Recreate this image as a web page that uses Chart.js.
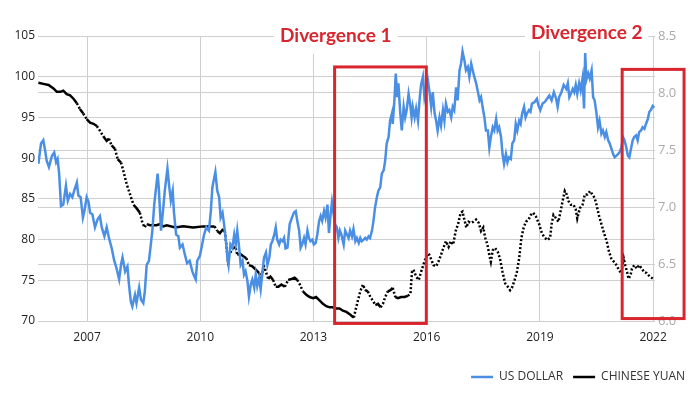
<!DOCTYPE html>
<html>
<head>
<meta charset="utf-8">
<script src="https://cdn.jsdelivr.net/npm/chart.js@4.4.1/dist/chart.umd.min.js"></script>
<style>
  html, body { margin: 0; padding: 0; background: #fff; }
  #wrap { width: 695px; height: 400px; }
</style>
</head>
<body>
<div id="wrap"><canvas id="grafico"></canvas></div>
<script>
// US dollar index (left axis)
const usdYears = [2005.71,2005.78,2005.84,2005.89,2005.93,2005.99,2006.07,2006.13,2006.18,2006.22,2006.26,2006.31,2006.37,2006.44,2006.49,2006.55,2006.61,2006.66,2006.73,2006.77,2006.83,2006.89,2006.93,2006.99,2007.04,2007.08,2007.14,2007.21,2007.28,2007.34,2007.39,2007.46,2007.52,2007.58,2007.65,2007.72,2007.78,2007.85,2007.90,2007.94,2008.01,2008.07,2008.11,2008.16,2008.20,2008.27,2008.31,2008.38,2008.43,2008.49,2008.53,2008.58,2008.64,2008.69,2008.73,2008.78,2008.83,2008.87,2008.90,2008.96,2009.02,2009.06,2009.13,2009.18,2009.22,2009.27,2009.30,2009.36,2009.42,2009.46,2009.53,2009.59,2009.65,2009.72,2009.79,2009.84,2009.88,2009.92,2009.99,2010.05,2010.10,2010.16,2010.23,2010.28,2010.32,2010.37,2010.40,2010.45,2010.50,2010.54,2010.59,2010.63,2010.68,2010.72,2010.75,2010.80,2010.85,2010.90,2010.94,2010.98,2011.03,2011.07,2011.12,2011.16,2011.20,2011.25,2011.29,2011.34,2011.38,2011.43,2011.47,2011.51,2011.56,2011.60,2011.65,2011.69,2011.74,2011.78,2011.83,2011.87,2011.91,2011.96,2012.00,2012.04,2012.09,2012.13,2012.18,2012.22,2012.26,2012.31,2012.37,2012.43,2012.48,2012.53,2012.57,2012.62,2012.66,2012.70,2012.75,2012.79,2012.84,2012.88,2012.92,2012.97,2013.01,2013.06,2013.10,2013.15,2013.19,2013.23,2013.28,2013.32,2013.37,2013.41,2013.45,2013.49,2013.53,2013.57,2013.62,2013.66,2013.70,2013.74,2013.80,2013.84,2013.89,2013.93,2013.97,2014.02,2014.06,2014.11,2014.15,2014.20,2014.24,2014.28,2014.33,2014.37,2014.41,2014.46,2014.50,2014.55,2014.59,2014.63,2014.68,2014.72,2014.77,2014.81,2014.86,2014.90,2014.94,2014.99,2015.03,2015.08,2015.10,2015.15,2015.18,2015.22,2015.25,2015.30,2015.34,2015.39,2015.43,2015.47,2015.52,2015.56,2015.60,2015.63,2015.68,2015.72,2015.77,2015.81,2015.85,2015.90,2015.94,2015.99,2016.03,2016.07,2016.12,2016.16,2016.21,2016.25,2016.29,2016.34,2016.38,2016.43,2016.47,2016.51,2016.56,2016.60,2016.65,2016.69,2016.73,2016.78,2016.82,2016.87,2016.91,2016.95,2017.00,2017.04,2017.09,2017.13,2017.18,2017.22,2017.26,2017.31,2017.35,2017.40,2017.44,2017.48,2017.53,2017.57,2017.62,2017.66,2017.70,2017.75,2017.79,2017.84,2017.88,2017.92,2017.97,2018.01,2018.05,2018.10,2018.14,2018.18,2018.23,2018.27,2018.32,2018.36,2018.40,2018.45,2018.49,2018.53,2018.58,2018.62,2018.66,2018.71,2018.75,2018.79,2018.86,2018.92,2018.96,2019.01,2019.07,2019.13,2019.19,2019.25,2019.31,2019.37,2019.43,2019.47,2019.51,2019.57,2019.63,2019.70,2019.74,2019.78,2019.82,2019.87,2019.91,2019.95,2019.99,2020.04,2020.08,2020.13,2020.17,2020.20,2020.23,2020.28,2020.32,2020.37,2020.41,2020.45,2020.50,2020.54,2020.58,2020.63,2020.67,2020.72,2020.76,2020.81,2020.85,2020.90,2020.94,2020.98,2021.03,2021.07,2021.11,2021.16,2021.20,2021.24,2021.29,2021.33,2021.37,2021.42,2021.46,2021.50,2021.55,2021.59,2021.63,2021.68,2021.72,2021.77,2021.81,2021.86,2021.90,2021.94,2021.99,2022.03];
const usdValues = [89.3,91.8,92.2,90.9,89.7,88.9,90.3,90.7,89.5,89.9,88.1,84.1,84.3,86.6,84.8,85.6,85.2,86.0,87.0,85.4,85.2,82.7,83.5,85.2,84.6,83.3,83.1,81.5,82.5,82.9,81.5,80.4,81.5,80.2,79.0,77.4,76.5,75.1,76.9,77.8,76.1,76.7,74.5,72.4,71.8,73.2,72.2,74.1,72.6,72.2,73.6,76.9,77.4,79.4,81.1,84.3,86.4,88.1,86.4,81.1,83.9,86.0,88.7,86.4,84.8,86.0,83.5,80.6,80.4,79.0,79.4,78.2,77.1,77.4,76.1,75.5,75.1,77.4,78.0,79.4,80.6,81.5,81.1,83.5,86.4,87.6,88.3,86.0,85.2,82.7,83.3,81.9,79.8,77.8,76.9,79.4,79.0,80.6,79.4,81.1,79.0,76.9,77.4,75.7,76.1,74.9,73.0,74.5,75.1,74.1,75.7,74.3,75.3,73.9,76.1,77.8,78.4,76.9,77.8,79.4,79.8,80.6,81.5,80.0,79.4,80.0,79.8,80.2,78.9,79.0,81.9,82.7,83.3,83.5,82.3,81.1,79.0,79.4,80.2,79.4,81.1,80.2,79.8,80.0,79.4,79.6,80.6,82.3,82.9,82.3,83.5,82.7,84.3,80.8,82.9,84.6,83.3,81.9,81.5,80.2,81.1,80.6,79.4,81.1,80.6,80.2,81.1,80.4,81.3,79.8,80.2,79.6,80.2,79.8,80.0,80.2,80.0,80.4,80.2,81.1,82.3,83.9,85.2,86.0,86.4,88.1,88.5,89.7,91.8,92.6,94.6,95.5,94.2,97.5,100.4,97.5,99.2,95.5,93.4,96.3,95.0,95.9,97.9,96.7,95.0,96.3,95.0,96.1,94.6,97.1,99.0,100.0,97.5,98.7,99.6,98.3,96.3,98.1,95.5,94.6,93.4,95.0,94.0,95.9,94.6,96.7,95.7,95.9,95.0,96.3,95.9,98.7,97.1,100.8,101.6,103.1,102.0,100.8,101.2,100.0,101.6,100.8,100.0,99.2,98.3,97.1,97.5,96.3,95.0,93.4,93.4,91.3,92.6,93.8,93.4,94.8,93.4,93.8,92.6,90.5,89.3,90.5,89.5,90.1,89.9,91.8,92.2,94.2,93.4,94.6,94.2,95.5,96.3,95.0,95.5,95.9,95.7,96.7,96.9,97.3,96.5,95.9,96.7,96.9,97.3,97.7,97.1,98.1,97.3,96.3,97.5,98.1,99.0,98.5,99.2,97.5,97.9,98.5,98.1,99.0,97.9,99.2,98.3,99.8,96.1,102.9,99.6,100.4,99.8,100.8,97.5,97.1,95.5,93.8,94.6,93.0,93.4,92.6,93.2,92.2,91.8,91.1,90.5,90.1,90.3,90.5,90.7,91.3,92.6,92.2,91.3,90.3,90.1,91.3,92.2,92.6,92.8,92.2,93.2,93.4,93.8,93.6,94.2,94.8,95.7,95.9,96.4,96.2];

// Chinese yuan per dollar (right axis)
const cnyYears = [2005.71,2005.84,2005.98,2006.11,2006.20,2006.29,2006.37,2006.46,2006.55,2006.64,2006.73,2006.81,2006.90,2006.99,2007.08,2007.17,2007.26,2007.34,2007.43,2007.52,2007.58,2007.65,2007.74,2007.81,2007.90,2007.96,2008.05,2008.14,2008.23,2008.31,2008.40,2008.46,2008.52,2008.58,2008.67,2008.75,2008.84,2008.93,2009.02,2009.11,2009.34,2009.55,2009.81,2010.08,2010.38,2010.45,2010.52,2010.59,2010.65,2010.69,2010.73,2010.76,2010.83,2010.89,2010.94,2010.98,2011.05,2011.13,2011.22,2011.29,2011.38,2011.47,2011.56,2011.62,2011.68,2011.74,2011.80,2011.86,2011.93,2012.00,2012.07,2012.15,2012.24,2012.33,2012.42,2012.50,2012.57,2012.64,2012.72,2012.81,2012.90,2012.99,2013.07,2013.16,2013.25,2013.34,2013.43,2013.52,2013.60,2013.69,2013.78,2013.87,2013.96,2014.03,2014.07,2014.11,2014.17,2014.24,2014.31,2014.37,2014.44,2014.51,2014.57,2014.64,2014.71,2014.78,2014.84,2014.90,2014.97,2015.04,2015.10,2015.17,2015.24,2015.32,2015.41,2015.50,2015.57,2015.61,2015.65,2015.72,2015.79,2015.85,2015.91,2015.97,2016.03,2016.07,2016.12,2016.18,2016.25,2016.31,2016.38,2016.44,2016.51,2016.58,2016.64,2016.70,2016.77,2016.84,2016.90,2016.95,2016.99,2017.05,2017.11,2017.17,2017.23,2017.31,2017.38,2017.44,2017.50,2017.55,2017.61,2017.66,2017.70,2017.75,2017.81,2017.88,2017.94,2018.01,2018.08,2018.15,2018.21,2018.27,2018.33,2018.39,2018.45,2018.51,2018.57,2018.63,2018.70,2018.76,2018.82,2018.89,2018.98,2019.03,2019.07,2019.13,2019.20,2019.27,2019.31,2019.36,2019.43,2019.49,2019.54,2019.60,2019.66,2019.71,2019.76,2019.82,2019.89,2019.95,2019.99,2020.06,2020.13,2020.19,2020.26,2020.33,2020.39,2020.45,2020.50,2020.56,2020.63,2020.70,2020.77,2020.83,2020.89,2020.96,2021.03,2021.09,2021.15,2021.22,2021.26,2021.31,2021.35,2021.40,2021.44,2021.50,2021.57,2021.63,2021.70,2021.76,2021.83,2021.91,2022.00];
const cnyValues = [8.09,8.08,8.07,8.04,8.01,8.01,8.02,7.99,7.98,7.95,7.91,7.86,7.82,7.77,7.74,7.73,7.71,7.67,7.62,7.58,7.60,7.54,7.51,7.42,7.39,7.32,7.20,7.11,7.02,6.99,6.95,6.87,6.82,6.85,6.84,6.84,6.84,6.85,6.83,6.84,6.82,6.83,6.82,6.83,6.83,6.79,6.77,6.80,6.79,6.67,6.54,6.58,6.62,6.65,6.64,6.58,6.59,6.57,6.55,6.49,6.48,6.45,6.42,6.37,6.49,6.43,6.37,6.39,6.36,6.30,6.30,6.32,6.30,6.36,6.37,6.38,6.36,6.32,6.26,6.23,6.21,6.20,6.21,6.18,6.15,6.13,6.12,6.12,6.11,6.11,6.09,6.08,6.06,6.04,6.03,6.09,6.17,6.26,6.32,6.27,6.26,6.21,6.18,6.14,6.15,6.12,6.15,6.21,6.26,6.27,6.29,6.21,6.20,6.21,6.21,6.22,6.24,6.43,6.45,6.39,6.36,6.43,6.49,6.55,6.59,6.58,6.54,6.49,6.48,6.52,6.58,6.64,6.70,6.65,6.70,6.67,6.79,6.86,6.95,6.96,6.90,6.82,6.87,6.86,6.87,6.89,6.86,6.79,6.82,6.73,6.67,6.58,6.52,6.62,6.64,6.61,6.55,6.43,6.33,6.30,6.27,6.30,6.36,6.43,6.55,6.73,6.82,6.87,6.89,6.93,6.95,6.92,6.85,6.79,6.76,6.73,6.71,6.73,6.85,6.93,6.90,6.87,6.95,7.05,7.14,7.11,7.05,7.02,7.02,6.98,6.90,6.99,7.02,7.11,7.11,7.14,7.11,7.08,7.02,6.93,6.85,6.77,6.70,6.61,6.55,6.52,6.49,6.45,6.42,6.55,6.49,6.43,6.37,6.40,6.46,6.49,6.46,6.49,6.46,6.43,6.42,6.39,6.37];

const xTickYears = [2007, 2010, 2013, 2016, 2019, 2022];
const seriesNames = ['US DOLLAR', 'CHINESE YUAN'];

// red annotation boxes, in data units (year / left-axis value)
const boxYears = [[2013.56, 2015.99], [2021.18, 2022.82]];
const boxValues = [[69.7, 101.2], [70.3, 100.9]];
const boxTitles = ['Divergence 1', 'Divergence 2'];
const titleYears = [2013.59, 2020.24];
const titleValues = [104.3, 104.65];

const red = '#d9262e';
const gridStyle = { color: '#cfcfcf', lineWidth: 1, borderDash: [2, 2], drawTicks: false };

const annotations = {
  id: 'annotations',
  afterDraw(chart) {
    const { ctx, scales: { x, y } } = chart;
    ctx.save();
    ctx.strokeStyle = red;
    ctx.lineWidth = 3;
    boxYears.forEach((yrs, i) => {
      const x0 = x.getPixelForValue(yrs[0]), x1 = x.getPixelForValue(yrs[1]);
      const y0 = y.getPixelForValue(boxValues[i][1]), y1 = y.getPixelForValue(boxValues[i][0]);
      ctx.strokeRect(x0, y0, x1 - x0, y1 - y0);
    });
    ctx.font = 'bold 19px Lato, "Open Sans", sans-serif';
    ctx.textAlign = 'center';
    ctx.textBaseline = 'alphabetic';
    boxTitles.forEach((t, i) => {
      const cx = x.getPixelForValue(titleYears[i]);
      const by = y.getPixelForValue(titleValues[i]);
      const w = ctx.measureText(t).width;
      ctx.fillStyle = '#fff';
      ctx.fillRect(cx - w / 2 - 6, by - 24, w + 12, 36);
      ctx.fillStyle = red;
      ctx.fillText(t, cx, by);
    });
    ctx.restore();
  }
};

const steepOrLate = c =>
  (c.p1.parsed.x >= 2015.55 || Math.abs(c.p1.y - c.p0.y) > 1.5 * Math.abs(c.p1.x - c.p0.x)) ? undefined : [];

new Chart(document.getElementById('grafico'), {
  type: 'line',
  data: {
    datasets: [{
      label: seriesNames[0],
      data: usdYears.map((t, i) => ({ x: t, y: usdValues[i] })),
      yAxisID: 'y',
      borderColor: '#4a8fe4',
      borderWidth: 2.5,
      pointRadius: 0,
      tension: 0,
      fill: false
    }, {
      label: seriesNames[1],
      data: cnyYears.map((t, i) => ({ x: t, y: cnyValues[i] })),
      yAxisID: 'y1',
      borderColor: '#000',
      borderWidth: 2.5,
      borderDash: [2, 2],
      segment: { borderDash: steepOrLate },
      pointRadius: 0,
      tension: 0,
      fill: false
    }]
  },
  options: {
    responsive: true,
    maintainAspectRatio: false,
    animation: false,
    layout: { padding: { top: 36, bottom: 7, left: 0, right: 0 } },
    font: { family: '"Open Sans", sans-serif' },
    scales: {
      x: {
        type: 'linear',
        min: 2005.7,
        max: 2022.05,
        afterBuildTicks: s => { s.ticks = xTickYears.map(v => ({ value: v })); },
        afterFit: s => { s.height = 40; },
        grid: gridStyle,
        border: { display: false },
        ticks: {
          color: '#222',
          padding: 9,
          maxRotation: 0,
          font: { family: '"Open Sans", sans-serif', size: 12 },
          callback: v => String(v)
        }
      },
      y: {
        position: 'left',
        min: 70,
        max: 105,
        afterFit: s => { s.width = 38; },
        grid: gridStyle,
        border: { display: false },
        ticks: { stepSize: 5, color: '#222', padding: 3, font: { family: '"Open Sans", sans-serif', size: 12 } }
      },
      y1: {
        position: 'right',
        min: 6,
        max: 8.5,
        afterFit: s => { s.width = 40; },
        grid: gridStyle,
        border: { display: false },
        ticks: { stepSize: 0.5, color: '#aaa', padding: 3, font: { family: '"Open Sans", sans-serif', size: 13 } }
      }
    },
    plugins: {
      legend: {
        position: 'bottom',
        align: 'end',
        labels: {
          usePointStyle: true,
          pointStyle: 'line',
          pointStyleWidth: 22,
          padding: 10,
          color: '#333',
          font: { family: '"Open Sans", sans-serif', size: 12 }
        }
      },
      tooltip: { enabled: false }
    }
  },
  plugins: [annotations]
});
</script>
</body>
</html>
